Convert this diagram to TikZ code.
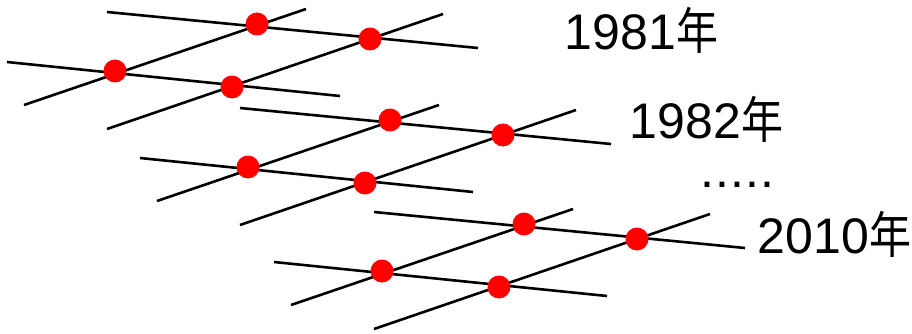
\documentclass[tikz,border=0pt]{standalone}
\usepackage{fontspec}
\setmainfont{Liberation Sans}
\newfontfamily\cjkfont{Noto Sans CJK SC}
\newcommand{\nian}{\hspace{1pt}\scalebox{0.84}[1]{\cjkfont 年}}
\newcommand{\spacedot}{.\hspace{1pt}}
\tikzset{
  gridline/.style={line width=2.6pt, black},
  vertex/.style={circle, fill=red, draw=none, inner sep=0pt, minimum size=23pt},
  yearlabel/.style={anchor=base west, inner sep=0pt, font=\fontsize{50}{60}\selectfont},
}
\begin{document}
\begin{tikzpicture}[x=1pt, y=-1pt]
  \useasboundingbox (0,0) rectangle (912,334);
  % one grid layer per year, each shifted down and to the right
  \foreach \l/\dx/\dy in {1/0/0, 2/133/96, 3/267/200}{
    \begin{scope}[shift={(\dx,\dy)}]
      \coordinate (ha\l) at (107,12);  \coordinate (hb\l) at (478,48);
      \coordinate (hc\l) at (7,62);    \coordinate (hd\l) at (340,96);
      \coordinate (da\l) at (24,105);  \coordinate (db\l) at (306,9);
      \coordinate (dc\l) at (107,129); \coordinate (dd\l) at (443,14);
      \draw[gridline] (ha\l) -- (hb\l);
      \draw[gridline] (hc\l) -- (hd\l);
      \draw[gridline] (da\l) -- (db\l);
      \draw[gridline] (dc\l) -- (dd\l);
      \node[vertex] (p\l a) at (257,24) {};
      \node[vertex] (p\l b) at (370,39) {};
      \node[vertex] (p\l c) at (115,71) {};
      \node[vertex] (p\l d) at (232,87) {};
    \end{scope}
  }
  \node[yearlabel] (y1981) at (564.5,49.5) {1981\nian};
  \node[yearlabel] (y1982) at (629.5,139) {1982\nian};
  \node[yearlabel] (dots)  at (700.5,187) {\spacedot\spacedot\spacedot\spacedot.};
  \node[yearlabel] (y2010) at (757.5,253) {2010\nian};
\end{tikzpicture}
\end{document}
